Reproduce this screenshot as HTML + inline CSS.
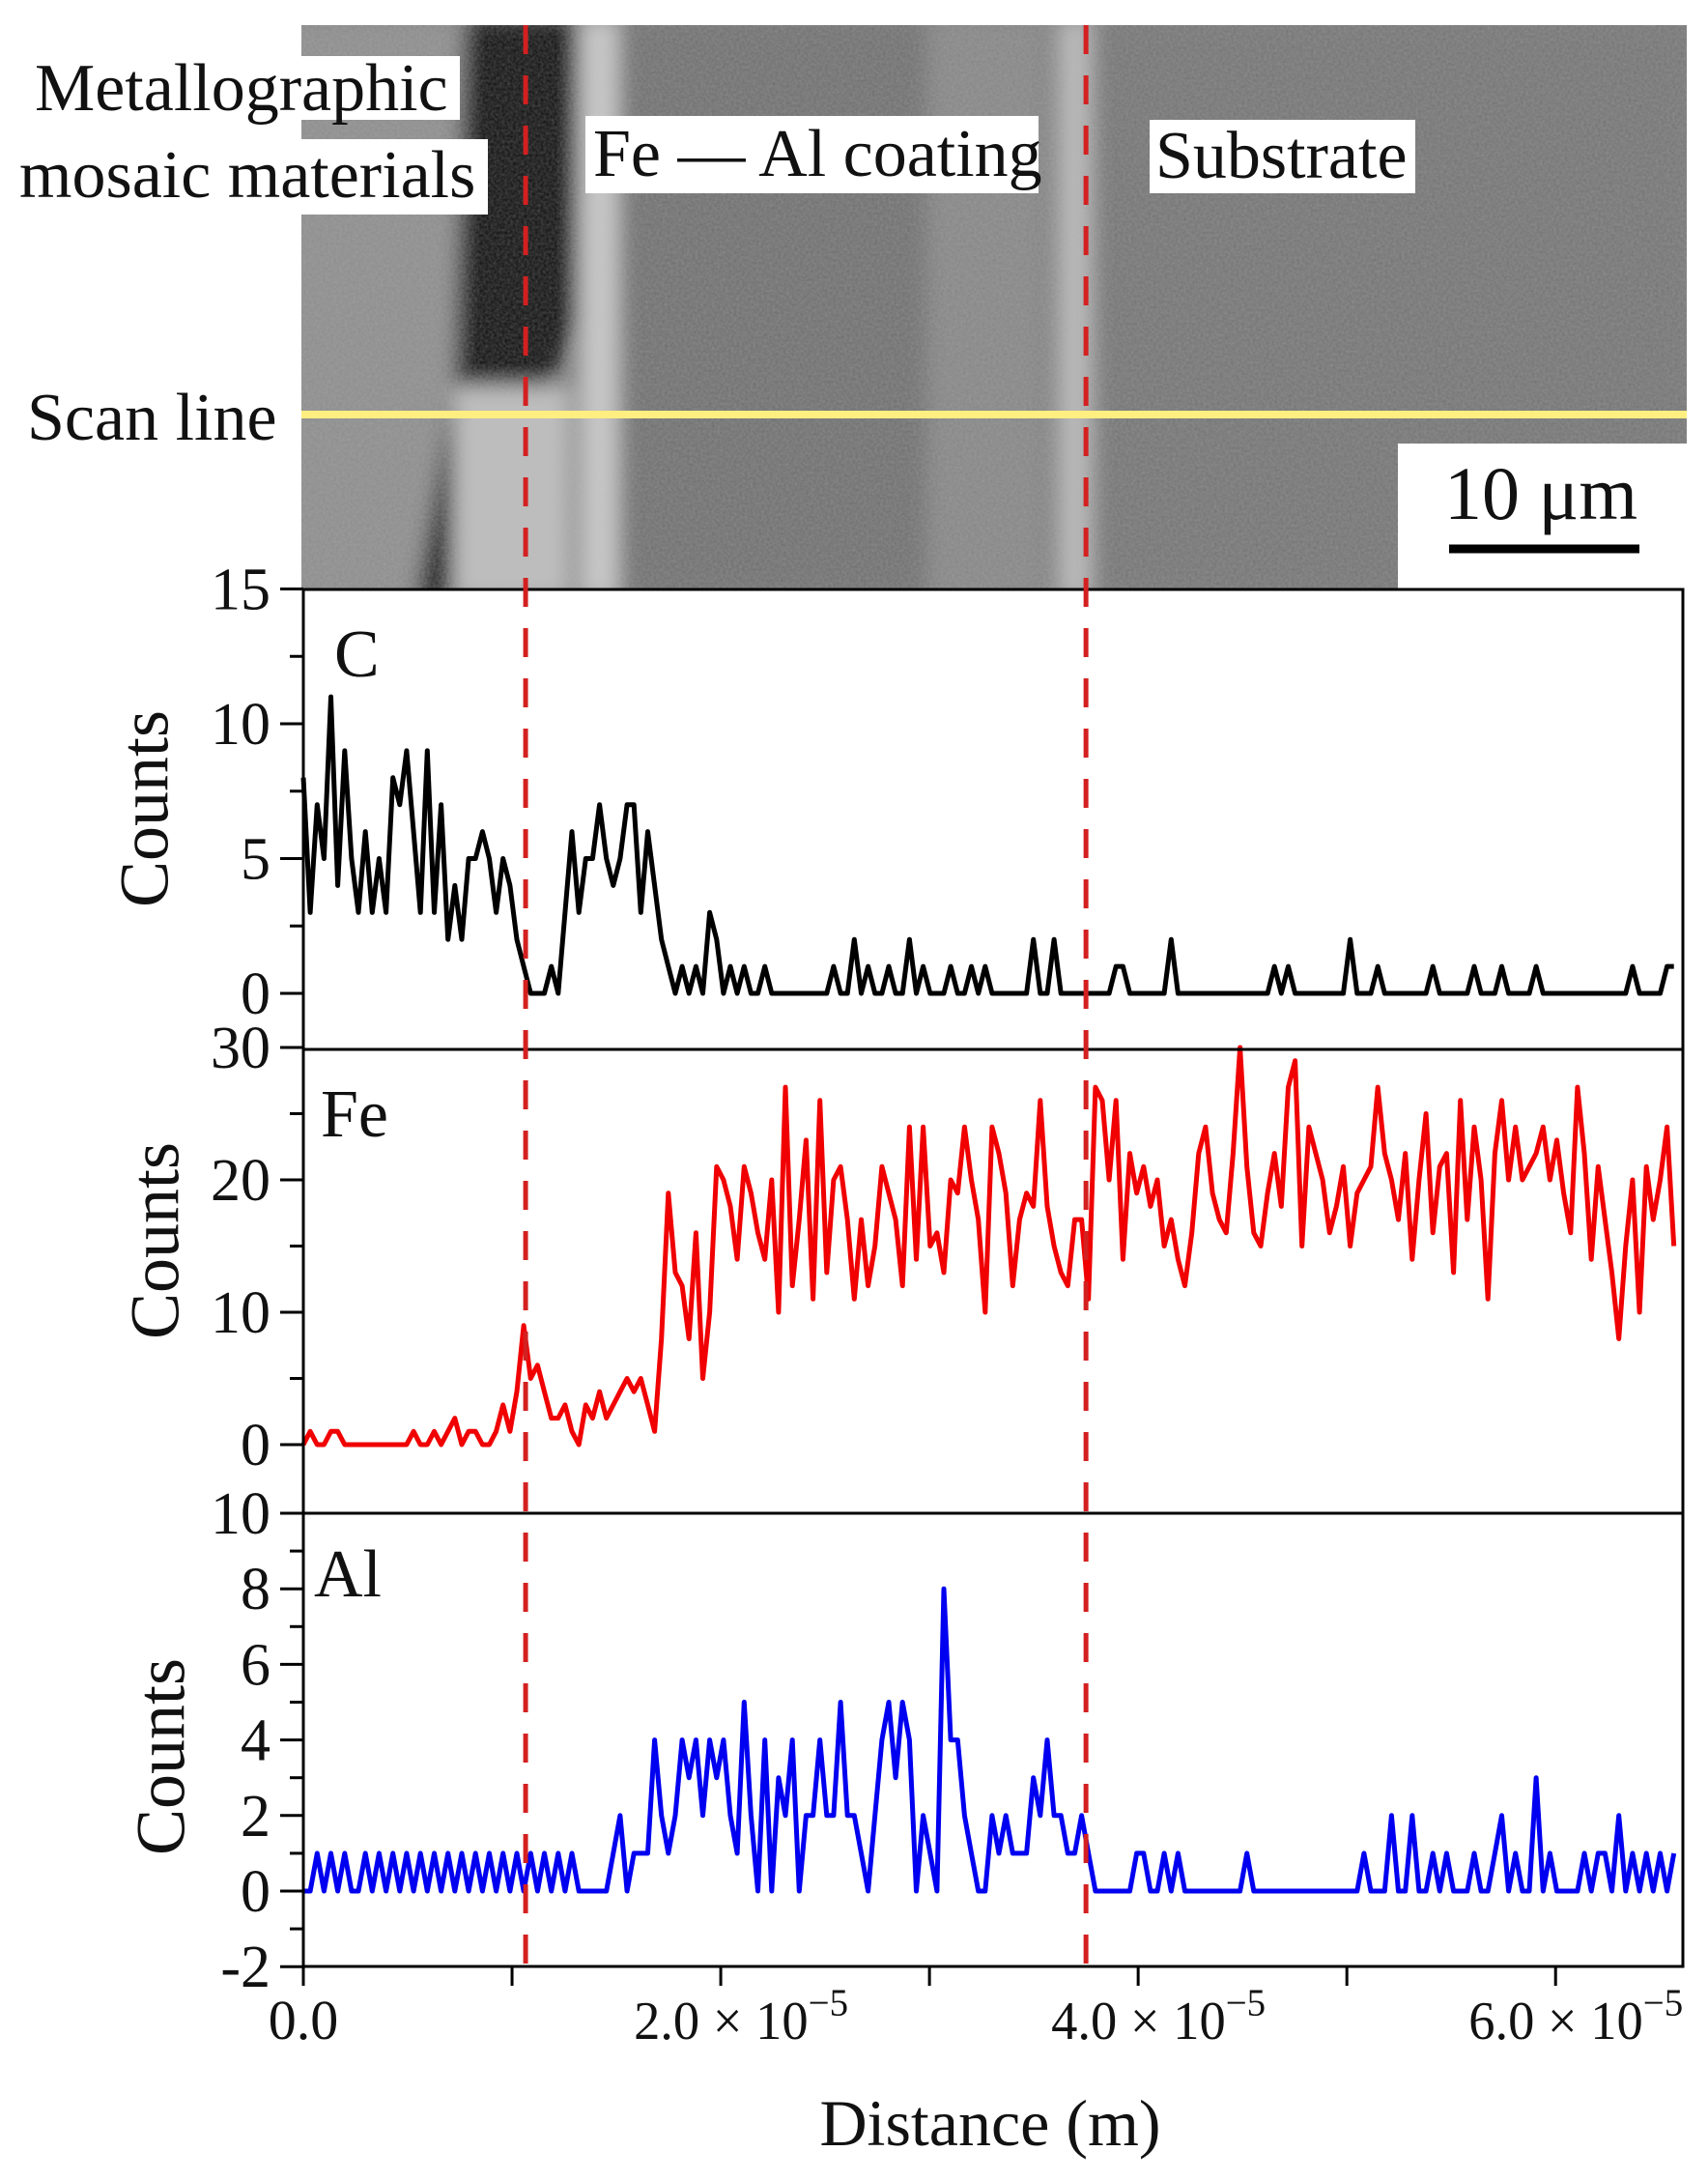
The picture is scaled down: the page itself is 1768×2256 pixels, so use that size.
<!DOCTYPE html>
<html><head><meta charset="utf-8"><style>
html,body{margin:0;padding:0;background:#fff;}
svg{display:block;font-family:"Liberation Serif",serif;}
</style></head><body>
<svg id="fig" width="1768" height="2256" viewBox="0 0 1768 2256" xmlns="http://www.w3.org/2000/svg">
<defs>
<filter id="bl" x="-20%" y="-20%" width="140%" height="140%"><feGaussianBlur stdDeviation="10"/></filter>
<filter id="noise"><feTurbulence type="fractalNoise" baseFrequency="0.35" numOctaves="2" seed="3"/><feColorMatrix type="matrix" values="0 0 0 0 0.5  0 0 0 0 0.5  0 0 0 0 0.5  0 0 0 0.35 0"/></filter>
<clipPath id="semclip"><rect x="312" y="26" width="1434" height="584"/></clipPath>
</defs>
<g clip-path="url(#semclip)">
<rect x="312" y="26" width="1434" height="584" fill="#7a7a7a"/>
<g filter="url(#bl)">
<rect x="290" y="20" width="200" height="600" fill="#8c8c8c"/>
<path d="M480 20 L610 20 L600 330 L560 420 L520 620 L430 620 L470 400 Z" fill="#0a0a0a"/>
<rect x="600" y="20" width="40" height="600" fill="#c8c8c8"/>
<rect x="640" y="20" width="320" height="600" fill="#6e6e6e"/>
<rect x="960" y="20" width="120" height="600" fill="#858585"/>
<rect x="1095" y="20" width="35" height="600" fill="#b8b8b8"/>
<rect x="1130" y="20" width="620" height="600" fill="#737373"/>
<rect x="470" y="400" width="120" height="220" fill="#bdbdbd"/>
</g>
<rect x="312" y="26" width="1434" height="584" filter="url(#noise)"/>
</g>
<g font-size="70" fill="#111">
<rect x="32" y="58" width="444" height="66" fill="#fff"/>
<text x="36" y="114">Metallographic</text>
<rect x="17" y="144" width="488" height="78" fill="#fff"/>
<text x="20" y="204">mosaic materials</text>
<rect x="606" y="120" width="469" height="80" fill="#fff"/>
<text x="614" y="182">Fe — Al coating</text>
<rect x="1190" y="124" width="275" height="76" fill="#fff"/>
<text x="1196" y="184">Substrate</text>
<text x="28" y="455">Scan line</text>
<line x1="312" y1="429" x2="1746" y2="429" stroke="#ffef80" stroke-width="8"/>
<rect x="1447" y="459" width="299" height="151" fill="#fff"/>
<text x="1595" y="537" font-size="78" text-anchor="middle">10 μm</text>
<line x1="1500" y1="568" x2="1697" y2="568" stroke="#000" stroke-width="9"/>
</g>
<g id="plots"></g>
</svg>
<script>
const cCounts = [8,3,7,5,11,4,9,5,3,6, 3,5,3,8,7,9,6,3,9,3, 7,2,4,2,5,5,6,5,3,5, 4,2,1,0,0,0,1,0,3,6,
 3,5,5,7,5,4,5,7,7,3, 6,4,2,1,0,1,0,1,0,3, 2,0,1,0,1,0,0,1,0,0, 0,0,0,0,0,0,0,1,0,0,
 2,0,1,0,0,1,0,0,2,0, 1,0,0,0,1,0,0,1,0,1, 0,0,0,0,0,0,2,0,0,2, 0,0,0,0,0,0,0,0,1,1,
 0,0,0,0,0,0,2,0,0,0, 0,0,0,0,0,0,0,0,0,0, 0,1,0,1,0,0,0,0,0,0, 0,0,2,0,0,0,1,0,0,0,
 0,0,0,0,1,0,0,0,0,0, 1,0,0,0,1,0,0,0,0,1, 0,0,0,0,0,0,0,0,0,0, 0,0,0,1,0,0,0,0,1,1];
const feCounts = [0,1,0,0,1,1,0,0,0,0, 0,0,0,0,0,0,1,0,0,1, 0,1,2,0,1,1,0,0,1,3, 1,4,9,5,6,4,2,2,3,1,
 0,3,2,4,2,3,4,5,4,5, 3,1,8,19,13,12,8,16,5,10, 21,20,18,14,21,19,16,14,20,10, 27,12,17,23,11,26,13,20,21,17,
 11,17,12,15,21,19,17,12,24,14, 24,15,16,13,20,19,24,20,17,10, 24,22,19,12,17,19,18,26,18,15, 13,12,17,17,11,27,26,20,26,14,
 22,19,21,18,20,15,17,14,12,16, 22,24,19,17,16,22,30,21,16,15, 19,22,18,27,29,15,24,22,20,16, 18,21,15,19,20,21,27,22,20,17,
 22,14,20,25,16,21,22,13,26,17, 24,20,11,22,26,20,24,20,21,22, 24,20,23,19,16,27,22,14,21,17, 13,8,15,20,10,21,17,20,24,15];
const alCounts = [0,0,1,0,1,0,1,0,0,1, 0,1,0,1,0,1,0,1,0,1, 0,1,0,1,0,1,0,1,0,1, 0,1,0,1,0,1,0,1,0,1,
 0,0,0,0,0,1,2,0,1,1, 1,4,2,1,2,4,3,4,2,4, 3,4,2,1,5,2,0,4,0,3, 2,4,0,2,2,4,2,2,5,2,
 2,1,0,2,4,5,3,5,4,0, 2,1,0,8,4,4,2,1,0,0, 2,1,2,1,1,1,3,2,4,2, 2,1,1,2,1,0,0,0,0,0,
 0,1,1,0,0,1,0,1,0,0, 0,0,0,0,0,0,0,1,0,0, 0,0,0,0,0,0,0,0,0,0, 0,0,0,0,1,0,0,0,2,0,
 0,2,0,0,1,0,1,0,0,0, 1,0,0,1,2,0,1,0,0,3, 0,1,0,0,0,0,1,0,1,1, 0,2,0,1,0,1,0,1,0,1];
const stepMeters = 0.33e-6;
const boundaries = [1.065e-5, 3.75e-5];
const xTickValues = [0, 1e-5, 2e-5, 3e-5, 4e-5, 5e-5, 6e-5];
const xTickLabels = ["0.0", "", "2.0", "", "4.0", "", "6.0"];
const cTicks = [0, 5, 10, 15];
const feTicks = [0, 10, 20, 30];
const alTicks = [-2, 0, 2, 4, 6, 8, 10];

const NS = "http://www.w3.org/2000/svg";
const g = document.getElementById("plots");
const X0 = 314, X1 = 1742, XMAX = 6.61e-5;
const xs = v => X0 + v / XMAX * (X1 - X0);
function mk(tag, attrs, parent) {
  const e = document.createElementNS(NS, tag);
  for (const k in attrs) e.setAttribute(k, attrs[k]);
  (parent || g).appendChild(e);
  return e;
}
const panels = [
  {name:"c", data:cCounts, color:"#000", ticks:cTicks, minor:2.5, top:610, bottom:1086, y0:1028, ppu:27.9, label:"C", lx:346, ly:700, cy:837, cx:157},
  {name:"fe", data:feCounts, color:"#f00000", ticks:feTicks, minor:5, top:1086, bottom:1566, y0:1495, ppu:13.7, label:"Fe", lx:332, ly:1176, cy:1284, cx:168},
  {name:"al", data:alCounts, color:"#0000f0", ticks:alTicks, minor:1, top:1566, bottom:2035, y0:1957, ppu:39.1, label:"Al", lx:325, ly:1652, cy:1818, cx:174}
];
panels.forEach(p => {
  const ys = v => p.y0 - v * p.ppu;
  const grp = mk("g", {});
  
  
  const bg = mk("rect", {x:X0, y:p.top, width:X1-X0, height:p.bottom-p.top, fill:"#fff"}, grp);
  
  
  const pts = p.data.map((v, i) => xs(i * stepMeters).toFixed(1) + "," + ys(v).toFixed(1)).join(" ");
  const line = mk("polyline", {points:pts, fill:"none", stroke:p.color, "stroke-width":5, "stroke-linejoin":"round"}, grp);
  
  
  const fr = mk("rect", {x:X0, y:p.top, width:X1-X0, height:p.bottom-p.top, fill:"none", stroke:"#000", "stroke-width":3}, grp);
  
  
  const lo = p.ticks[0], hi = p.ticks[p.ticks.length-1];
  for (let v = lo; v <= hi + 1e-9; v += p.minor) {
    const major = p.ticks.some(t => Math.abs(t - v) < 1e-9);
    const t = mk("line", {x1:X0 - (major ? 24 : 14), x2:X0, y1:ys(v), y2:ys(v), stroke:"#000", "stroke-width":3}, grp);
    
    
  }
  p.ticks.forEach(v => {
    const t = mk("text", {x:280, y:ys(v) + 21, "font-size":62, "text-anchor":"end", fill:"#111"}, grp);
    t.textContent = String(v);
    
    
  });
  const lb = mk("text", {x:p.lx, y:p.ly, "font-size":70, fill:"#111"}, grp);
  lb.textContent = p.label;
  
  
  const yt = mk("text", {x:p.cx, y:p.cy, "font-size":72, "text-anchor":"middle", fill:"#111", transform:"rotate(-90 " + p.cx + " " + p.cy + ")", "dominant-baseline":"middle"}, grp);
  yt.textContent = "Counts";
  
  
});
xTickValues.forEach((v, i) => {
  const t = mk("line", {x1:xs(v), x2:xs(v), y1:2035, y2:2055, stroke:"#000", "stroke-width":3});
  
  
  if (xTickLabels[i]) {
    let tx;
    if (v === 0) {
      tx = mk("text", {x:xs(v), y:2110, "font-size":58, "text-anchor":"middle", fill:"#111"});
      tx.textContent = xTickLabels[i];
    } else {
      tx = mk("text", {x:xs(v) - 90, y:2110, "font-size":56, "text-anchor":"start", fill:"#111", textLength:222, lengthAdjust:"spacingAndGlyphs"});
      tx.textContent = xTickLabels[i] + " × 10";
      const sup = document.createElementNS(NS, "tspan");
      sup.setAttribute("dy", "-24"); sup.setAttribute("font-size", "40");
      sup.textContent = "−5";
      tx.appendChild(sup);
    }
    
    
  }
});
const xt = mk("text", {x:1025, y:2220, "font-size":68, "text-anchor":"middle", fill:"#111"});
xt.textContent = "Distance (m)";


boundaries.forEach(b => {
  const l = mk("line", {x1:xs(b), x2:xs(b), y1:26, y2:2035, stroke:"#d42020", "stroke-width":5, "stroke-dasharray":"30 22"});
  
  
});
</script>
</body></html>
